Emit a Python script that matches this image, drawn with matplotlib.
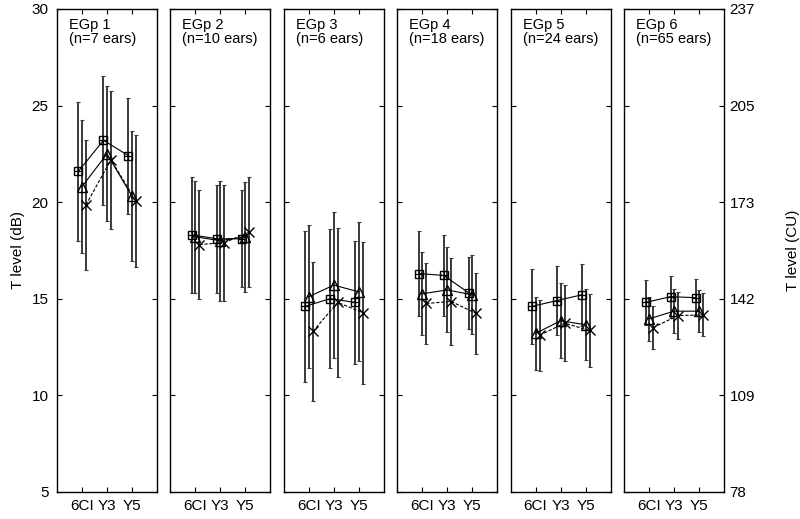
import matplotlib
matplotlib.use("Agg")
import matplotlib.pyplot as plt
import numpy as np

plt.rcParams['font.family'] = ['Liberation Sans', 'DejaVu Sans']

groups = ["EGp 1", "EGp 2", "EGp 3", "EGp 4", "EGp 5", "EGp 6"]
n_ears = [7, 10, 6, 18, 24, 65]
timepoints = ["6CI", "Y3", "Y5"]

sq_mean = [[21.6, 23.2, 22.4], [18.3, 18.1, 18.1], [14.6, 15.0, 14.8],
           [16.3, 16.2, 15.3], [14.6, 14.9, 15.2], [14.8, 15.1, 15.05]]
sq_sd = [[3.6, 3.35, 3.0], [3.0, 2.8, 2.5], [3.9, 3.6, 3.2],
         [2.2, 2.1, 1.85], [1.95, 1.8, 1.6], [1.18, 1.08, 0.95]]
tri_mean = [[20.8, 22.5, 20.3], [18.2, 18.0, 18.2], [15.1, 15.7, 15.35],
            [15.25, 15.45, 15.2], [13.2, 13.85, 13.65], [13.95, 14.35, 14.35]]
tri_sd = [[3.45, 3.5, 3.37], [2.9, 3.1, 2.85], [3.7, 3.8, 3.6],
          [2.15, 2.2, 2.05], [1.9, 1.94, 1.83], [1.12, 1.15, 1.08]]
x_mean = [[19.85, 22.2, 20.05], [17.8, 17.9, 18.45], [13.3, 14.8, 14.27],
          [14.75, 14.85, 14.23], [13.1, 13.73, 13.35], [13.5, 14.12, 14.16]]
x_sd = [[3.35, 3.57, 3.4], [2.8, 3.0, 2.85], [3.6, 3.87, 3.67],
        [2.1, 2.25, 2.12], [1.85, 1.98, 1.9], [1.13, 1.2, 1.12]]

db_ticks = [5, 10, 15, 20, 25, 30]
cu_labels = ["78", "109", "142", "173", "205", "237"]

fig = plt.figure(figsize=(8.0, 5.19), dpi=100)
W, H = 800.0, 519.0
left0, step, width = 57 / W, 113.4 / W, 100 / W
bottom = 1 - 491.7 / H
height = (491.7 - 9) / H

xc = np.arange(1, 4)
offsets = [-0.14, 0.0, 0.16]
series = [
    (sq_mean, sq_sd, dict(marker='s', ms=6, mfc='none', ls='-')),
    (tri_mean, tri_sd, dict(marker='^', ms=7.5, mfc='none', ls='-')),
    (x_mean, x_sd, dict(marker='x', ms=7, mfc='none', ls=(0, (3, 1.5)))),
]

axes = []
for g in range(6):
    ax = fig.add_axes([left0 + g * step, bottom, width, height])
    axes.append(ax)
    for (m, s, st), off in zip(series, offsets):
        xs = xc + off
        ax.errorbar(xs, m[g], yerr=s[g], fmt='none', ecolor='#3a3a3a',
                    elinewidth=1.4, capsize=1.5, capthick=0.8, zorder=2)
        ax.plot(xs, m[g], color='black', lw=0.8, mec='black', mew=1.0,
                zorder=3, **st)
        if st['marker'] == 's':
            ax.plot(xs, m[g], ls='none', marker='+', ms=6, mec='black',
                    mew=0.9, zorder=4)
    ax.set_xlim(0, 4)
    ax.set_ylim(5, 30)
    ax.set_xticks(xc)
    ax.set_xticklabels(timepoints)
    ax.set_yticks(db_ticks)
    ax.tick_params(direction='in', top=True, right=True, length=3.5,
                   width=0.8, labelsize=11, pad=6)
    ax.tick_params(axis='x', pad=5)
    for sp in ax.spines.values():
        sp.set_linewidth(1.0)
    if g == 0:
        ax.set_ylabel("T level (dB)", fontsize=11, labelpad=5)
    else:
        ax.set_yticklabels([])
    if g == 5:
        ax.tick_params(axis='y', labelright=True, labelleft=False, pad=4)
        ax.set_yticklabels(cu_labels)
        ax.yaxis.set_label_position('right')
        ax.set_ylabel("T level (CU)", fontsize=11, labelpad=22, rotation=90)
    ax.text(0.12, 0.982, f"{groups[g]}\n(n={n_ears[g]} ears)",
            transform=ax.transAxes, ha='left', va='top', fontsize=10.5,
            linespacing=1.0)

fig.savefig("out.png", dpi=100)
